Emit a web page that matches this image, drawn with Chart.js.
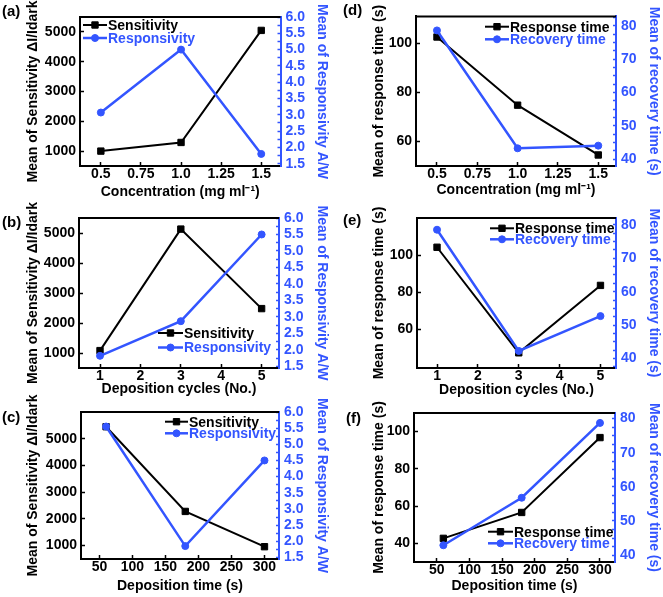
<!DOCTYPE html>
<html>
<head>
<meta charset="utf-8">
<script src="https://cdn.jsdelivr.net/npm/chart.js@4"></script>
<style>
  html, body { margin: 0; padding: 0; background: #fff; }
  #wrap { position: relative; width: 663px; height: 597px; font-family: 'Liberation Sans', Arial, sans-serif; }
  #wrap canvas { position: absolute; left: 0; top: 0; }
  .tag { position: absolute; font-weight: bold; font-size: 15px; line-height: 15px; }
</style>
</head>
<body>
<div id="wrap">
  <canvas id="pa" width="663" height="597"></canvas>
  <canvas id="pb" width="663" height="597"></canvas>
  <canvas id="pc" width="663" height="597"></canvas>
  <canvas id="pd" width="663" height="597"></canvas>
  <canvas id="pe" width="663" height="597"></canvas>
  <canvas id="pf" width="663" height="597"></canvas>
  <div class="tag" style="left:2px;top:3px">(a)</div>
  <div class="tag" style="left:2px;top:214px">(b)</div>
  <div class="tag" style="left:2px;top:409px">(c)</div>
  <div class="tag" style="left:343px;top:2px">(d)</div>
  <div class="tag" style="left:343px;top:212px">(e)</div>
  <div class="tag" style="left:346px;top:410px">(f)</div>
</div>
<script>
/* x-värden för de tre försöksserierna */
const concentration = [0.5, 1.0, 1.5];
const cycles = [1, 3, 5];
const depTime = [60, 180, 300];

/* (a)-(c): känslighet och responsivitet */
const sensConc = [1000, 1290, 5050];
const respConc = [3.07, 5.0, 1.8];
const sensCycles = [1080, 5130, 2480];
const respCycles = [1.82, 2.87, 5.5];
const sensTime = [5450, 2280, 960];
const respTime = [5.55, 1.85, 4.5];

/* (d)-(f): responstid och återhämtningstid */
const responseConc = [102.6, 74.8, 54.5];
const recoveryConc = [78.6, 43.3, 44.1];
const responseCycles = [104.2, 47.2, 83.6];
const recoveryCycles = [78.5, 42.3, 52.7];
const responseTime = [42.7, 56.6, 96.8];
const recoveryTime = [42.9, 56.8, 78.7];

/* tick-etiketter */
const concTicks = [0.5, 0.75, 1.0, 1.25, 1.5];
const concLabels = ['0.5', '0.75', '1.0', '1.25', '1.5'];
const cycleTicks = [1, 2, 3, 4, 5];
const timeTicks = [50, 100, 150, 200, 250, 300];
const sensTicks = [1000, 2000, 3000, 4000, 5000];
const respTicks = [1.5, 2.0, 2.5, 3.0, 3.5, 4.0, 4.5, 5.0, 5.5, 6.0];
const meanTicksDE = [60, 80, 100];
const meanTicksF = [40, 60, 80, 100];
const recTicks = [40, 50, 60, 70, 80];

const W = 663, H = 597;
const BLUE = '#3355ff';
const FONT = { family: "'Liberation Sans', Arial, sans-serif", size: 14, weight: 'bold' };
const HALF = (FONT.size * 1.2) / 2;

/* ram: översta linjen saknas annars */
const framePlugin = {
  id: 'frame',
  afterDatasetsDraw(chart) {
    const { ctx, chartArea: a } = chart;
    ctx.save();
    ctx.strokeStyle = '#000';
    ctx.lineWidth = 2;
    ctx.beginPath();
    ctx.moveTo(a.left - 1, a.top);
    ctx.lineTo(a.right, a.top);
    ctx.stroke();
    ctx.restore();
  }
};

/* legend med linje + markör, som i Origin */
const legendPlugin = {
  id: 'lineLegend',
  afterDraw(chart, args, opts) {
    const { ctx } = chart;
    ctx.save();
    ctx.font = `bold ${FONT.size}px ${FONT.family}`;
    ctx.textBaseline = 'middle';
    chart.data.datasets.forEach((ds, i) => {
      const y = opts.y + i * opts.dy;
      const x = opts.x;
      ctx.strokeStyle = ds.borderColor;
      ctx.fillStyle = ds.borderColor;
      ctx.lineWidth = ds.borderWidth;
      ctx.beginPath();
      ctx.moveTo(x, y);
      ctx.lineTo(x + opts.len, y);
      ctx.stroke();
      ctx.lineWidth = 1;
      Chart.helpers.drawPoint(ctx, {
        pointStyle: ds.pointStyle, radius: ds.pointRadius, borderWidth: 1, rotation: 0
      }, x + opts.len / 2, y);
      ctx.fillText(ds.label, x + opts.len + 1, y + 1);
    });
    ctx.restore();
  }
};

function setTicks(values, step) {
  return (axis) => {
    const out = [];
    if (step) {
      const start = Math.ceil(axis.min / step - 1e-9) * step;
      for (let v = start; v <= axis.max + 1e-9; v += step) out.push({ value: +v.toFixed(4) });
    } else {
      values.forEach((v) => out.push({ value: v }));
    }
    axis.ticks = out;
  };
}

function buildPanel(p) {
  const [L, T, R, B] = p.area;
  const padLeft = p.titleX[0] - HALF;
  const rightEdge = p.titleX[1] + HALF;
  const bottomEdge = p.titleY + HALF;
  const mk = (ys) => p.xs.map((x, i) => ({ x, y: ys[i] }));

  new Chart(document.getElementById(p.id), {
    type: 'line',
    data: {
      datasets: [
        {
          label: p.names[0], data: mk(p.black), yAxisID: 'y', order: 1,
          borderColor: '#000', backgroundColor: '#000', borderWidth: 2,
          pointStyle: 'rect', pointRadius: 4.5, pointBorderWidth: 1, tension: 0
        },
        {
          label: p.names[1], data: mk(p.blue), yAxisID: 'y2', order: 0,
          borderColor: BLUE, backgroundColor: BLUE, borderWidth: 2.5,
          pointStyle: 'circle', pointRadius: 3.5, pointBorderWidth: 1, tension: 0
        }
      ]
    },
    options: {
      responsive: false,
      animation: false,
      events: [],
      layout: { padding: { left: padLeft, right: W - rightEdge, top: T, bottom: H - bottomEdge } },
      plugins: {
        legend: { display: false },
        tooltip: { enabled: false },
        lineLegend: p.legend
      },
      scales: {
        x: {
          type: 'linear', position: 'bottom', min: p.xr[0], max: p.xr[1],
          afterBuildTicks: setTicks(p.xTicks),
          afterFit: (s) => { s.height = bottomEdge - B; },
          grid: { drawOnChartArea: false, tickLength: -4, tickColor: '#000', tickWidth: 1.5 },
          border: { color: '#000', width: 2 },
          ticks: {
            color: '#000', font: FONT, padding: 3.5, maxRotation: 0, autoSkip: false,
            callback: (v, i) => (p.xLabels ? p.xLabels[i] : String(v))
          },
          title: { display: true, text: p.xTitle, color: '#000', font: FONT, padding: 0 }
        },
        y: {
          type: 'linear', position: 'left', min: p.yr[0], max: p.yr[1],
          afterBuildTicks: setTicks(p.yTicks),
          afterFit: (s) => { s.width = L - padLeft; },
          grid: { drawOnChartArea: false, tickLength: -4, tickColor: '#000', tickWidth: 1.5 },
          border: { color: '#000', width: 2 },
          ticks: { color: '#000', font: FONT, padding: 8, autoSkip: false, callback: (v) => String(v) },
          title: { display: true, text: p.yTitle, color: '#000', font: FONT, padding: 0 }
        },
        y2: {
          type: 'linear', position: 'right', min: p.y2r[0], max: p.y2r[1],
          afterBuildTicks: setTicks(null, p.minor),
          afterFit: (s) => { s.width = rightEdge - R; },
          grid: { drawOnChartArea: false, tickLength: -3, tickColor: BLUE, tickWidth: 1.5 },
          border: { color: BLUE, width: 2 },
          ticks: {
            color: BLUE, font: FONT, padding: 8, autoSkip: false,
            callback: (v) => {
              const hit = p.y2Ticks.find((t) => Math.abs(t - v) < 1e-6);
              return hit === undefined ? '' : (p.y2Dec ? hit.toFixed(p.y2Dec) : String(hit));
            }
          },
          title: { display: true, text: p.y2Title, color: BLUE, font: FONT, padding: 0 }
        }
      }
    },
    plugins: [framePlugin, legendPlugin]
  });
}

const sensNames = ['Sensitivity', 'Responsivity'];
const timeNames = ['Response time', 'Recovery time'];
const sensTitle = 'Mean of Sensitivity \u0394I/Idark';
const respTitle = 'Mean of Responsivity A/W';
const concTitle = 'Concentration (mg ml\u207B\u00B9)';
const cycleTitle = 'Deposition cycles (No.)';
const timeTitle = 'Deposition time (s)';

const panels = [
  { id: 'pa', area: [80, 17, 280.5, 166], titleX: [33, 322], titleY: 192,
    xs: concentration, black: sensConc, blue: respConc, names: sensNames,
    xr: [0.37, 1.62], xTicks: concTicks, xLabels: concLabels, xTitle: concTitle,
    yr: [500, 5500], yTicks: sensTicks, yTitle: sensTitle,
    y2r: [1.43, 6.0], y2Ticks: respTicks, y2Dec: 1, minor: 0.25, y2Title: respTitle,
    legend: { x: 83, y: 25, dy: 13, len: 24 } },
  { id: 'pb', area: [79, 218, 279, 368], titleX: [33, 322], titleY: 389,
    xs: cycles, black: sensCycles, blue: respCycles, names: sensNames,
    xr: [0.48, 5.43], xTicks: cycleTicks, xTitle: cycleTitle,
    yr: [500, 5500], yTicks: sensTicks, yTitle: sensTitle,
    y2r: [1.45, 6.0], y2Ticks: respTicks, y2Dec: 1, minor: 0.25, y2Title: respTitle,
    legend: { x: 158, y: 333, dy: 14.5, len: 25 } },
  { id: 'pc', area: [81, 412, 279, 559], titleX: [33, 322], titleY: 586.5,
    xs: depTime, black: sensTime, blue: respTime, names: sensNames,
    xr: [22, 322], xTicks: timeTicks, xTitle: timeTitle,
    yr: [500, 6000], yTicks: sensTicks, yTitle: sensTitle,
    y2r: [1.45, 6.0], y2Ticks: respTicks, y2Dec: 1, minor: 0.25, y2Title: respTitle,
    legend: { x: 165, y: 421.7, dy: 11.6, len: 23 } },
  { id: 'pd', area: [416, 15, 616, 166], titleX: [379, 654], titleY: 190.5,
    xs: concentration, black: responseConc, blue: recoveryConc, names: timeNames,
    xr: [0.37, 1.61], xTicks: concTicks, xLabels: concLabels, xTitle: concTitle,
    yr: [50, 111], yTicks: meanTicksDE, yTitle: 'Mean of response time (s)',
    y2r: [38, 82.8], y2Ticks: recTicks, minor: 2.5, y2Title: 'Mean of recovery time (s)',
    legend: { x: 485, y: 26.7, dy: 12.6, len: 24 } },
  { id: 'pe', area: [417, 218, 616, 368], titleX: [379, 654], titleY: 390,
    xs: cycles, black: responseCycles, blue: recoveryCycles, names: timeNames,
    xr: [0.51, 5.38], xTicks: cycleTicks, xTitle: cycleTitle,
    yr: [39, 120], yTicks: meanTicksDE, yTitle: 'Mean of response time (s)',
    y2r: [37.2, 82], y2Ticks: recTicks, minor: 2.5, y2Title: 'Mean of recovery time (s)',
    legend: { x: 490, y: 228.3, dy: 11, len: 24 } },
  { id: 'pf', area: [414, 413, 615, 562], titleX: [379, 654], titleY: 586.5,
    xs: depTime, black: responseTime, blue: recoveryTime, names: timeNames,
    xr: [15, 323], xTicks: timeTicks, xTitle: timeTitle,
    yr: [30, 110], yTicks: meanTicksF, yTitle: 'Mean of response time (s)',
    y2r: [38, 81.6], y2Ticks: recTicks, minor: 2.5, y2Title: 'Mean of recovery time (s)',
    legend: { x: 488, y: 531.7, dy: 11.6, len: 25 } }
];

panels.forEach(buildPanel);
</script>
</body>
</html>
